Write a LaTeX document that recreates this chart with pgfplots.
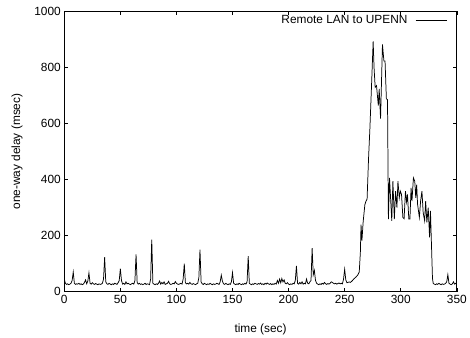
\documentclass[border=0pt]{standalone}
\usepackage{pgfplots}
\pgfplotsset{compat=1.18}
\usepackage{pgfplotstable}
\usepackage{fontspec}
\setmainfont{Liberation Sans}
\pgfplotstableread[row sep=\\]{
x y\\
0 45\\ 1 30\\ 2 26\\ 3 28\\ 4 25\\ 5 27\\ 6 30\\ 7 40\\ 8 70\\ 9 30\\
10 26\\ 11 28\\ 12 27\\ 13 30\\ 14 26\\ 15 28\\ 16 25\\ 17 27\\ 18 33\\ 19 42\\
20 28\\ 21 38\\ 22 67\\ 23 30\\ 24 27\\ 25 32\\ 26 28\\ 27 26\\ 28 29\\ 29 27\\
30 25\\ 31 28\\ 32 26\\ 33 27\\ 34 30\\ 35 45\\ 36 123\\ 37 35\\ 38 28\\ 39 26\\
40 30\\ 41 27\\ 42 25\\ 43 28\\ 44 26\\ 45 30\\ 46 28\\ 47 26\\ 48 32\\ 49 40\\
50 82\\ 51 40\\ 52 27\\ 53 30\\ 54 26\\ 55 35\\ 56 28\\ 57 30\\ 58 27\\ 59 25\\
60 28\\ 61 30\\ 62 27\\ 63 40\\ 64 133\\ 65 32\\ 66 27\\ 67 30\\ 68 26\\ 69 28\\
70 25\\ 71 27\\ 72 30\\ 73 26\\ 74 28\\ 75 27\\ 76 25\\ 77 45\\ 78 186\\ 79 30\\
80 27\\ 81 25\\ 82 28\\ 83 26\\ 84 30\\ 85 38\\ 86 27\\ 87 33\\ 88 28\\ 89 35\\
90 26\\ 91 28\\ 92 30\\ 93 37\\ 94 28\\ 95 26\\ 96 27\\ 97 30\\ 98 28\\ 99 36\\
100 30\\ 101 27\\ 102 26\\ 103 28\\ 104 30\\ 105 27\\ 106 45\\ 107 100\\ 108 32\\ 109 28\\
110 30\\ 111 27\\ 112 33\\ 113 28\\ 114 26\\ 115 29\\ 116 27\\ 117 25\\ 118 28\\ 119 30\\
120 50\\ 121 150\\ 122 35\\ 123 28\\ 124 26\\ 125 30\\ 126 27\\ 127 25\\ 128 28\\ 129 26\\
130 30\\ 131 27\\ 132 25\\ 133 28\\ 134 26\\ 135 27\\ 136 30\\ 137 28\\ 138 26\\ 139 35\\
140 59\\ 141 38\\ 142 28\\ 143 26\\ 144 30\\ 145 27\\ 146 25\\ 147 28\\ 148 26\\ 149 35\\
150 68\\ 151 30\\ 152 27\\ 153 25\\ 154 28\\ 155 26\\ 156 30\\ 157 27\\ 158 25\\ 159 28\\
160 26\\ 161 30\\ 162 27\\ 163 35\\ 164 127\\ 165 30\\ 166 27\\ 167 25\\ 168 28\\ 169 26\\
170 30\\ 171 28\\ 172 26\\ 173 29\\ 174 27\\ 175 31\\ 176 26\\ 177 28\\ 178 25\\ 179 30\\
180 27\\ 181 31\\ 182 28\\ 183 26\\ 184 29\\ 185 25\\ 186 28\\ 187 26\\ 188 30\\ 189 27\\
190 40\\ 191 30\\ 192 45\\ 193 32\\ 194 47\\ 195 35\\ 196 42\\ 197 30\\ 198 28\\ 199 32\\
200 27\\ 201 25\\ 202 28\\ 203 26\\ 204 30\\ 205 28\\ 206 40\\ 207 92\\ 208 30\\ 209 27\\
210 33\\ 211 28\\ 212 35\\ 213 27\\ 214 30\\ 215 28\\ 216 45\\ 217 30\\ 218 28\\ 219 35\\
220 40\\ 221 155\\ 222 60\\ 223 76\\ 224 40\\ 225 30\\ 226 27\\ 227 25\\ 228 28\\ 229 26\\
230 30\\ 231 27\\ 232 33\\ 233 28\\ 234 26\\ 235 29\\ 236 27\\ 237 30\\ 238 35\\ 239 33\\
240 30\\ 241 28\\ 242 30\\ 243 27\\ 244 29\\ 245 31\\ 246 28\\ 247 30\\ 248 28\\ 249 45\\
250 80\\ 251 42\\ 252 32\\ 253 33\\ 254 35\\ 255 33\\ 256 36\\ 257 40\\ 258 45\\
258.7 47\\ 260 52\\ 261.6 59\\ 263 70\\ 264 140\\ 264.6 239\\ 265.4 182\\ 266.5 250\\
268 310\\ 269 323\\ 270 330\\ 271.3 476\\ 272.5 582\\ 274 740\\ 275.4 893\\ 276.2 800\\
277.2 729\\ 278.4 735\\ 279.2 700\\ 280 664\\ 280.8 723\\ 282 617\\ 283.7 882\\ 285 823\\
286 823\\ 287.2 688\\ 288.2 685\\ 289 259\\ 290 406\\ 292 253\\ 293 394\\ 294.3 259\\
295.4 359\\ 296.6 300\\ 297.5 394\\ 298.7 335\\ 299.6 359\\ 300.7 347\\ 301.9 265\\ 303 260\\
304.2 359\\ 305.2 320\\ 306 347\\ 307.2 259\\ 308.2 259\\ 309.2 370\\ 310 323\\ 311.3 406\\
312.5 394\\ 313.4 335\\ 314.2 382\\ 315 312\\ 316.6 265\\ 317.7 323\\ 318.9 359\\ 320 282\\
321.3 253\\ 322.2 323\\ 323.3 247\\ 324.5 300\\ 325.7 194\\ 326.5 288\\ 327.2 194\\ 328.3 47\\
329 29\\ 330 27\\ 331 25\\ 332 28\\ 333 26\\ 334 30\\ 335 27\\ 336 25\\ 337 28\\ 338 26\\
339 27\\ 340 30\\ 341 35\\ 342 61\\ 343 30\\ 344 27\\ 345 25\\ 346 28\\ 347 35\\ 348 27\\
349 30\\ 350 26\\
}\delaydata
\begin{document}
\begin{tikzpicture}
\begin{axis}[
  scale only axis,
  width=397bp, height=283.5bp,
  xmin=0, xmax=350, ymin=0, ymax=1000,
  xtick={0,50,...,350}, ytick={0,200,...,1000},
  tick align=inside, major tick length=4bp,
  minor tick num=0,
  axis line style={line width=0.8bp},
  tick style={black, line width=0.6bp},
  font=\fontsize{12bp}{14bp}\selectfont,
  /pgf/number format/assume math mode=true,
  /pgf/number format/1000 sep={},
  xlabel={time (sec)}, ylabel={one-way delay (msec)},
  xlabel style={at={(axis description cs:0.5,-0.133)}, anchor=center},
  ylabel style={at={(axis description cs:-0.12,0.5)}, anchor=center, rotate=0},
  legend style={draw=none, fill=none, at={(1,1)}, anchor=north east,
    xshift=-6bp, yshift=0bp, legend plot pos=right,
    font=\fontsize{12bp}{14bp}\selectfont},
  legend image code/.code={\path (0bp,0bp); \draw[#1] (6bp,0bp) -- (38bp,0bp);},
]
\addplot[black, line width=0.75bp, mark=none] table[x=x,y=y] {\delaydata};
\addlegendentry{Remote LAN to UPENN}
\end{axis}
\path[use as bounding box] (-65bp,-40bp) rectangle (405bp,295bp);
\end{tikzpicture}
\end{document}
